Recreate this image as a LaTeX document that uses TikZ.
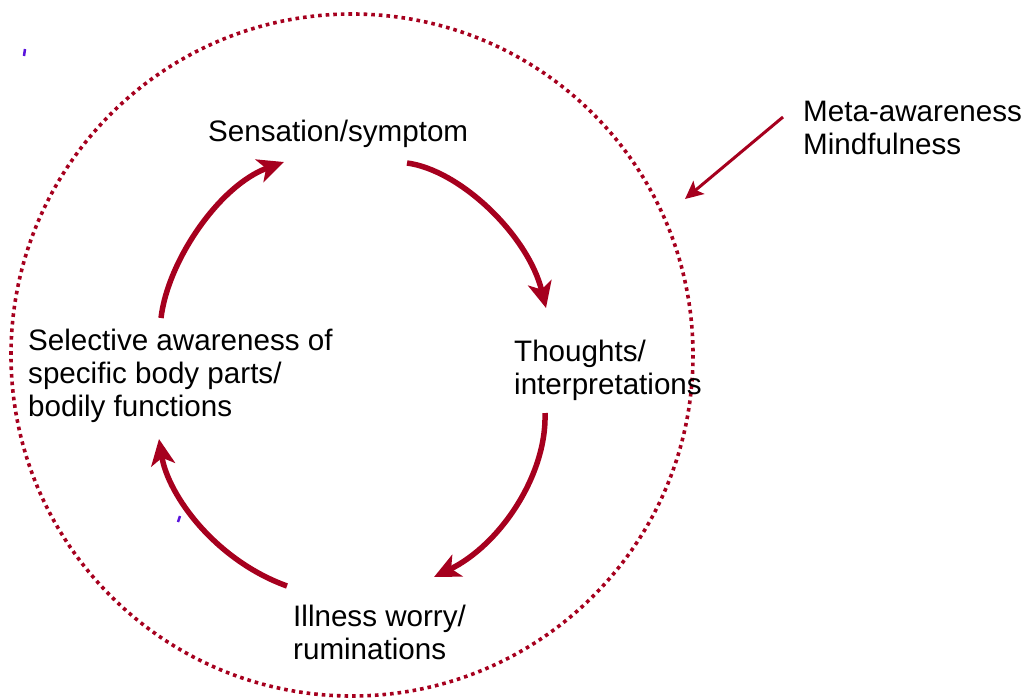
\documentclass[tikz,border=0pt]{standalone}
\usepackage{fontspec}
\setmainfont{Liberation Sans}
\usetikzlibrary{arrows.meta}
\definecolor{cyclered}{RGB}{166,0,30}
\definecolor{inkblue}{RGB}{90,20,220}
\begin{document}
\begin{tikzpicture}[x=1pt,y=-1pt,
  label/.style={inner sep=0pt,anchor=base west,align=left,
    font=\fontsize{29.6}{33}\selectfont},
  cyclearrow/.style={draw=cyclered,line width=5.5pt,
    -{Stealth[length=26pt,width=24pt,inset=7pt]}},
  pointer/.style={draw=cyclered,line width=3pt,
    -{Stealth[length=18pt,width=17pt,inset=4pt]}},
  ring/.style={draw=cyclered,line width=3.6pt,dash pattern=on 3.6pt off 4pt}]
\useasboundingbox (0,0) rectangle (1028,699);

% awareness ring
\draw[ring] (352,355) circle[radius=341];

% stage labels (base anchor sits on the last line)
\node[label] (sens) at (208,141) {Sensation/symptom};
\node[label] (thou) at (514,394) {Thoughts/\\interpretations};
\node[label] (ill) at (293,659) {Illness worry/\\ruminations};
\node[label] (sel) at (28,416) {Selective awareness of\\specific body parts/\\bodily functions};
\node[label] (meta) at (803,154) {Meta-awareness\\Mindfulness};

% arrow end points
\coordinate (a1s) at (407,163);
\coordinate (a1e) at (546,308);
\coordinate (a2s) at (545,413);
\coordinate (a2e) at (434,577);
\coordinate (a3s) at (287,586);
\coordinate (a3e) at (159,439);
\coordinate (a4s) at (161,318);
\coordinate (a4e) at (284,162);
\coordinate (ms) at (783,117);
\coordinate (me) at (685,199);

% the cycle
\draw[cyclearrow] (a1s) .. controls (460,170) and (528,235) .. (a1e);
\draw[cyclearrow] (a2s) .. controls (547,475) and (500,545) .. (a2e);
\draw[cyclearrow] (a3s) .. controls (215,560) and (168,495) .. (a3e);
\draw[cyclearrow] (a4s) .. controls (168,260) and (220,185) .. (a4e);

% pointer from the annotation to the ring
\draw[pointer] (ms) -- (me);

% small ink marks
\draw[inkblue,line width=2.5pt] (24,56) -- (25,49);
\draw[inkblue,line width=2.5pt] (178,522) -- (180,516);
\end{tikzpicture}
\end{document}
